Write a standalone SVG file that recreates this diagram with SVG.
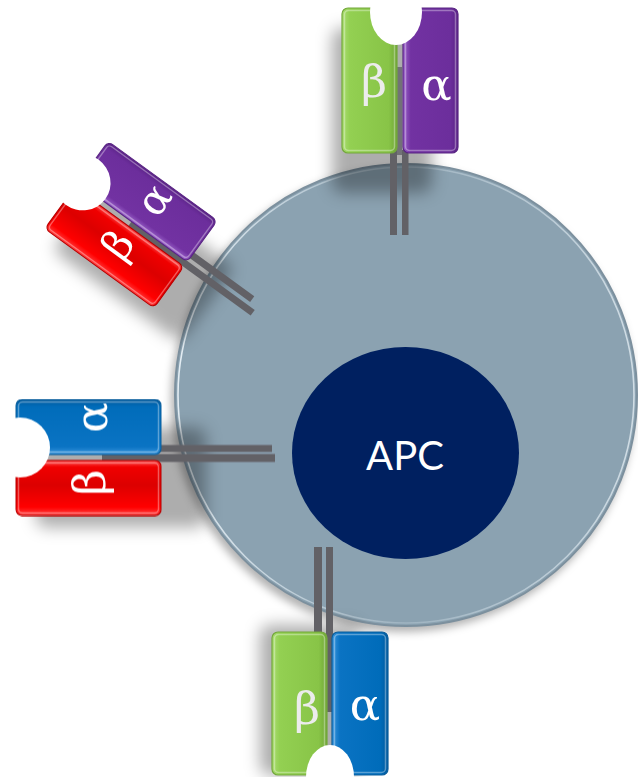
<svg xmlns="http://www.w3.org/2000/svg" width="638" height="777" viewBox="0 0 638 777">
  <defs>
    <style>
      .box{stroke-width:1.2}
      .green{fill:url(#gGreen);stroke:#74a83c}
      .purple{fill:url(#gPurple);stroke:#5a2684}
      .blue{fill:url(#gBlue);stroke:#0b5e9c}
      .red{fill:url(#gRed);stroke:#b80000}
      .gloss{fill:none;stroke:#fff;stroke-opacity:.35;stroke-width:1.5}
      .notch{fill:#fff}
      .bar{fill:#626166}
      .bar-gap{fill:#727177}
      .shadow{fill:#000;fill-opacity:.32}
      .lbl{font-family:'DejaVu Serif',serif;font-size:45px;text-anchor:middle;fill:#fff}
      .lbl-b{fill:#ececec}
      .apc{font-family:Lato,'Open Sans',sans-serif;font-size:40px;fill:#fff;text-anchor:middle}
    </style>
    <linearGradient id="gGreen" x1="0" y1="0" x2="1" y2="0">
      <stop offset="0" stop-color="#aadc70"/>
      <stop offset=".14" stop-color="#93d052"/>
      <stop offset=".85" stop-color="#88c447"/>
      <stop offset="1" stop-color="#6fa536"/>
    </linearGradient>
    <linearGradient id="gPurple" x1="0" y1="0" x2="1" y2="0">
      <stop offset="0" stop-color="#9c64cc"/>
      <stop offset=".14" stop-color="#7232a2"/>
      <stop offset=".86" stop-color="#6c2e9c"/>
      <stop offset="1" stop-color="#5a2286"/>
    </linearGradient>
    <linearGradient id="gBlue" x1="0" y1="0" x2="1" y2="0">
      <stop offset="0" stop-color="#3a96de"/>
      <stop offset=".14" stop-color="#0a73c3"/>
      <stop offset=".86" stop-color="#006cba"/>
      <stop offset="1" stop-color="#005a9e"/>
    </linearGradient>
    <linearGradient id="gRed" x1="0" y1="0" x2="1" y2="0">
      <stop offset="0" stop-color="#ff4040"/>
      <stop offset=".15" stop-color="#ff0000"/>
      <stop offset=".55" stop-color="#dc0000"/>
      <stop offset=".88" stop-color="#f00000"/>
      <stop offset="1" stop-color="#ff5050"/>
    </linearGradient>
    <linearGradient id="rim" x1="0" y1="0" x2="1" y2="0">
      <stop offset="0" stop-color="#eef6fb" stop-opacity=".9"/>
      <stop offset=".5" stop-color="#dbe8f0" stop-opacity=".25"/>
      <stop offset="1" stop-color="#eef6fb" stop-opacity=".7"/>
    </linearGradient>
    <filter id="soft" x="-50%" y="-50%" width="200%" height="200%">
      <feGaussianBlur stdDeviation="8"/>
    </filter>
    <filter id="cellShadow" x="-20%" y="-20%" width="140%" height="140%">
      <feGaussianBlur stdDeviation="4"/>
    </filter>
  </defs>

  <!-- antigen presenting cell with nucleus -->
  <g id="apc-cell">
    <circle cx="403" cy="400" r="232" fill="#000" fill-opacity=".3" filter="url(#cellShadow)"/>
    <circle cx="406" cy="395" r="231" fill="#8ba2b1" stroke="#7c909e" stroke-width="2"/>
    <circle cx="406" cy="395" r="228" fill="none" stroke="url(#rim)" stroke-width="1.6"/>
    <ellipse cx="405.5" cy="453" rx="113.5" ry="106" fill="#002060"/>
    <text class="apc" x="405" y="470">APC</text>
  </g>

  <!-- soft cast shadows of the receptors -->
  <g id="receptor-shadows" filter="url(#soft)">
    <rect class="shadow" transform="translate(400,8)" x="-68" y="20" width="100" height="165" rx="10"/>
    <rect class="shadow" transform="translate(76.5,185) rotate(-54) scale(0.93)" x="-72" y="20" width="100" height="170" rx="10"/>
    <rect class="shadow" transform="translate(16,457.5) rotate(-90)" x="-70" y="20" width="100" height="170" rx="10"/>
    <rect class="shadow" x="260" y="625" width="100" height="150" rx="10"/>
  </g>

  <!-- transmembrane stalks -->
  <g id="connectors">
    <g transform="translate(400,8)">
      <rect class="bar-gap" x="-3.5" y="59" width="5.5" height="88"/>
      <rect class="bar" x="-10" y="142" width="7" height="85"/>
      <rect class="bar" x="2" y="142" width="6.5" height="85"/>
    </g>
    <g transform="translate(76.5,185) rotate(-54) scale(0.93)">
      <rect class="bar" x="-3.5" y="71" width="7.5" height="163"/>
      <rect class="bar" x="8" y="140" width="7.5" height="85"/>
    </g>
    <g transform="translate(16,457.5) rotate(-90)">
      <rect class="bar" x="-4.5" y="86" width="8" height="173"/>
      <rect class="bar" x="5.5" y="144" width="7" height="112"/>
    </g>
    <g>
      <rect class="bar" x="314" y="547" width="8" height="90"/>
      <rect class="bar" x="326" y="547" width="7" height="165"/>
    </g>
  </g>

  <!-- receptor on top: beta green, alpha purple -->
  <g id="tcr-top" transform="translate(400,8)">
    <rect class="box green" x="-58" y="0" width="55" height="145" rx="6"/>
    <rect class="gloss" x="-55.5" y="2.5" width="50" height="140" rx="4"/>
    <rect class="box purple" x="3" y="0" width="55" height="145" rx="6"/>
    <rect class="gloss" x="5.5" y="2.5" width="50" height="140" rx="4"/>
    <ellipse class="notch" cx="-4" cy="4" rx="26" ry="33"/>
    <text class="lbl lbl-b" x="-26" y="89">β</text>
    <text class="lbl" x="36.5" y="92">α</text>
  </g>

  <!-- receptor at upper left: beta red, alpha purple -->
  <g id="tcr-upper-left" transform="translate(76.5,185) rotate(-54) scale(0.93)">
    <rect class="box red" x="-58" y="0" width="55" height="145" rx="6"/>
    <rect class="gloss" x="-55.5" y="2.5" width="50" height="140" rx="4"/>
    <rect class="box purple" x="3" y="0" width="55" height="145" rx="6"/>
    <rect class="gloss" x="5.5" y="2.5" width="50" height="140" rx="4"/>
    <ellipse class="notch" cx="6" cy="3" rx="30" ry="31"/>
    <text class="lbl" x="-26" y="89">β</text>
    <text class="lbl" x="36.5" y="92">α</text>
  </g>

  <!-- receptor at left: beta red, alpha blue -->
  <g id="tcr-left" transform="translate(16,457.5) rotate(-90)">
    <rect class="box red" x="-58" y="0" width="55" height="145" rx="6"/>
    <rect class="gloss" x="-55.5" y="2.5" width="50" height="140" rx="4"/>
    <rect class="box blue" x="3" y="0" width="55" height="145" rx="6"/>
    <rect class="gloss" x="5.5" y="2.5" width="50" height="140" rx="4"/>
    <ellipse class="notch" cx="10" cy="4" rx="30" ry="30"/>
    <text class="lbl" x="-25" y="89">β</text>
    <text class="lbl" x="40" y="91">α</text>
  </g>

  <!-- receptor at bottom: beta green, alpha blue -->
  <g id="tcr-bottom">
    <rect class="box green" x="272" y="632" width="55" height="143" rx="6"/>
    <rect class="gloss" x="274.5" y="634.5" width="50" height="138" rx="4"/>
    <rect class="box blue" x="332" y="632" width="56" height="143" rx="6"/>
    <rect class="gloss" x="334.5" y="634.5" width="51" height="138" rx="4"/>
    <ellipse class="notch" cx="330" cy="777" rx="24" ry="32"/>
    <text class="lbl lbl-b" x="307" y="724">β</text>
    <text class="lbl" x="365" y="720">α</text>
  </g>
</svg>
